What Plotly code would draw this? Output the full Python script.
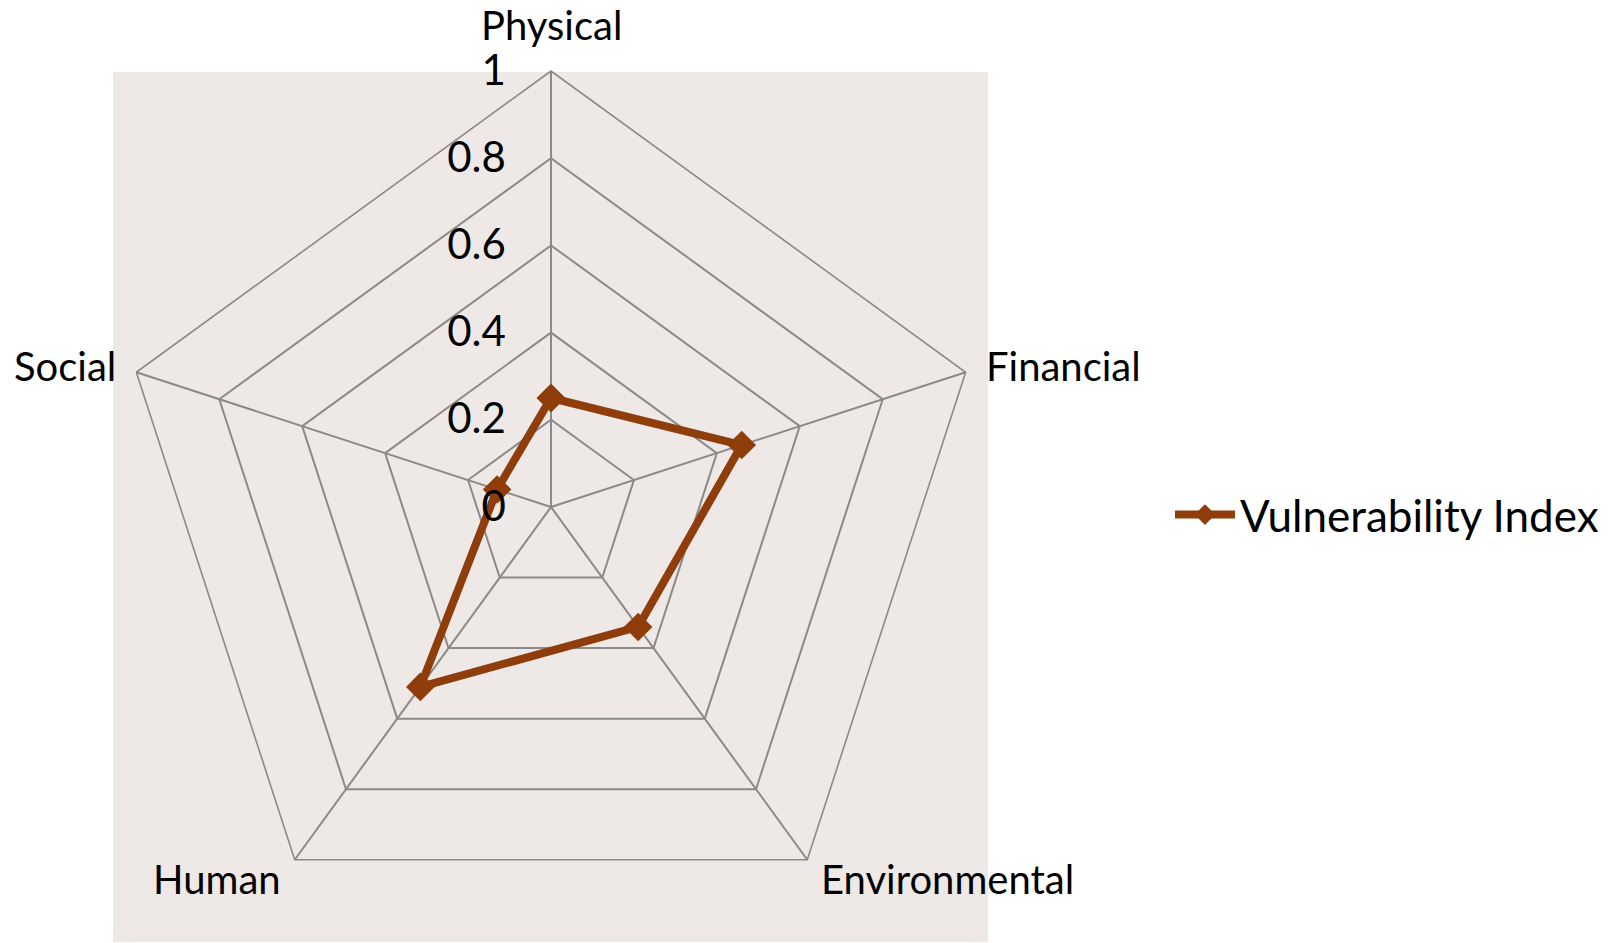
import math
import plotly.graph_objects as go

# Vulnerability index per dimension
dimensions = ["Physical", "Financial", "Environmental", "Human", "Social"]
vulnerability = [0.25, 0.46, 0.34, 0.51, 0.13]
radial_ticks = [0, 0.2, 0.4, 0.6, 0.8, 1]
radial_tick_labels = ["0", "0.2", "0.4", "0.6", "0.8", "1"]

W, H = 1614, 943
BROWN = "#8f3d0b"
GRID = "#8a8a8a"
FONT = "Lato, 'Open Sans', sans-serif"

# Polar domain in pixels (square, touching the bottom of the figure)
DOM_X0, DOM_X1 = 115, 987
DOM_TOP = 71
R = (DOM_X1 - DOM_X0) / 2
CX, CY = (DOM_X0 + DOM_X1) / 2, DOM_TOP + R

fig = go.Figure()
fig.add_trace(go.Scatterpolar(
    r=vulnerability + vulnerability[:1],
    theta=dimensions + dimensions[:1],
    mode="lines+markers",
    name="Vulnerability Index",
    line=dict(color=BROWN, width=8),
    marker=dict(symbol="diamond", size=22, color=BROWN),
))

# Plot-area background rectangle behind the radar
fig.add_shape(
    type="rect", xref="paper", yref="paper", layer="below",
    x0=113 / W, x1=988 / W, y0=1 - 942 / H, y1=1 - 72 / H,
    fillcolor="#eee9e7", line=dict(width=0),
)

# Category labels placed just outside each spoke's outer vertex
n = len(dimensions)
for i, name in enumerate(dimensions):
    theta = math.radians(90 - 360 * i / n)
    c, s = math.cos(theta), math.sin(theta)
    vx, vy = CX + R * c, CY - R * s
    if abs(c) < 0.3:
        xanchor, px, py = "center", vx, vy - 46
    elif s > 0:
        xanchor = "left" if c > 0 else "right"
        px, py = vx + 18 * (1 if c > 0 else -1), vy - 6
    else:
        xanchor = "left" if c > 0 else "right"
        px, py = vx + 12 * (1 if c > 0 else -1), vy + 19
    fig.add_annotation(
        text=name, xref="paper", yref="paper",
        x=px / W, y=1 - py / H, xanchor=xanchor, yanchor="middle",
        showarrow=False, font=dict(size=40, family=FONT, color="black"),
    )

fig.update_layout(
    width=W, height=H,
    margin=dict(l=0, r=0, t=0, b=0),
    paper_bgcolor="white",
    font=dict(family=FONT, color="black", size=40),
    polar=dict(
        domain=dict(x=[DOM_X0 / W, DOM_X1 / W], y=[0, 1 - DOM_TOP / H]),
        bgcolor="rgba(0,0,0,0)",
        gridshape="linear",
        radialaxis=dict(
            range=[0, 1], tickvals=radial_ticks, ticktext=radial_tick_labels,
            angle=90, side="counterclockwise", tickangle=90,
            showline=False, gridcolor=GRID, gridwidth=1.6,
            ticks="outside", ticklen=30, tickcolor="rgba(0,0,0,0)",
            tickfont=dict(size=42, family=FONT, color="black"),
        ),
        angularaxis=dict(
            rotation=90, direction="clockwise",
            showline=True, linecolor=GRID, linewidth=1.6,
            gridcolor=GRID, gridwidth=1.6, ticks="",
            showticklabels=False,
        ),
    ),
    showlegend=True,
    legend=dict(
        x=1170 / W, y=1 - 515 / H, xanchor="left", yanchor="middle",
        itemwidth=60,
        bgcolor="rgba(0,0,0,0)",
        font=dict(size=44, family=FONT, color="black"),
    ),
)

fig.write_html("out.html")
